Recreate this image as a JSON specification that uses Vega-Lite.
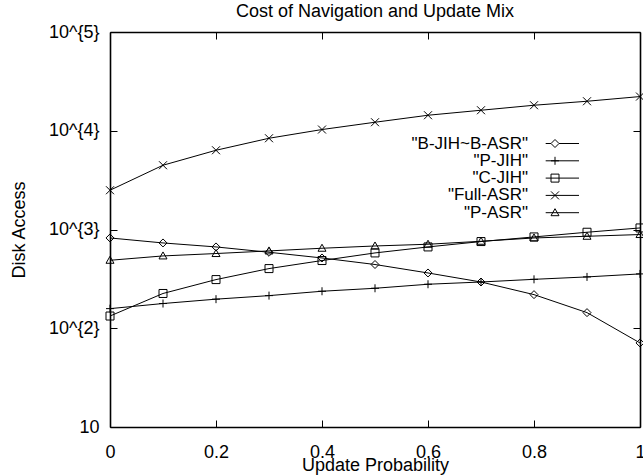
{
  "$schema": "https://vega.github.io/schema/vega-lite/v6.json",
  "width": 530,
  "height": 395,
  "autosize": {"type": "none"},
  "padding": {"left": 110, "top": 32, "right": 3, "bottom": 49},
  "background": "white",
  "config": {
    "font": "Liberation Sans",
    "view": {"stroke": null},
    "axis": {
      "domainColor": "black",
      "domainWidth": 1.6,
      "tickColor": "black",
      "tickWidth": 1,
      "tickSize": -7,
      "labelColor": "black",
      "titleColor": "black",
      "labelFontSize": 18,
      "titleFontSize": 18,
      "titleFontWeight": "normal",
      "grid": false,
      "labelOverlap": false,
      "labelBound": false,
      "labelFlush": false
    }
  },
  "title": {
    "text": "Cost of Navigation and Update Mix",
    "fontSize": 18,
    "fontWeight": "normal",
    "color": "black",
    "baseline": "alphabetic",
    "offset": 4,
    "dy": 16,
    "anchor": "middle",
    "frame": "group"
  },
  "data": {
    "values": [
      {"p": 0, "access": 821, "series": "B-JIH~B-ASR"},
      {"p": 0.1, "access": 731, "series": "B-JIH~B-ASR"},
      {"p": 0.2, "access": 666, "series": "B-JIH~B-ASR"},
      {"p": 0.3, "access": 588, "series": "B-JIH~B-ASR"},
      {"p": 0.4, "access": 515, "series": "B-JIH~B-ASR"},
      {"p": 0.5, "access": 442, "series": "B-JIH~B-ASR"},
      {"p": 0.6, "access": 363, "series": "B-JIH~B-ASR"},
      {"p": 0.7, "access": 294, "series": "B-JIH~B-ASR"},
      {"p": 0.8, "access": 219, "series": "B-JIH~B-ASR"},
      {"p": 0.9, "access": 144, "series": "B-JIH~B-ASR"},
      {"p": 1, "access": 71, "series": "B-JIH~B-ASR"},
      {"p": 0, "access": 158, "series": "P-JIH"},
      {"p": 0.1, "access": 178, "series": "P-JIH"},
      {"p": 0.2, "access": 197, "series": "P-JIH"},
      {"p": 0.3, "access": 214, "series": "P-JIH"},
      {"p": 0.4, "access": 237, "series": "P-JIH"},
      {"p": 0.5, "access": 254, "series": "P-JIH"},
      {"p": 0.6, "access": 279, "series": "P-JIH"},
      {"p": 0.7, "access": 294, "series": "P-JIH"},
      {"p": 0.8, "access": 313, "series": "P-JIH"},
      {"p": 0.9, "access": 331, "series": "P-JIH"},
      {"p": 1, "access": 355, "series": "P-JIH"},
      {"p": 0, "access": 133, "series": "C-JIH"},
      {"p": 0.1, "access": 225, "series": "C-JIH"},
      {"p": 0.2, "access": 311, "series": "C-JIH"},
      {"p": 0.3, "access": 402, "series": "C-JIH"},
      {"p": 0.4, "access": 485, "series": "C-JIH"},
      {"p": 0.5, "access": 579, "series": "C-JIH"},
      {"p": 0.6, "access": 666, "series": "C-JIH"},
      {"p": 0.7, "access": 755, "series": "C-JIH"},
      {"p": 0.8, "access": 841, "series": "C-JIH"},
      {"p": 0.9, "access": 938, "series": "C-JIH"},
      {"p": 1, "access": 1037, "series": "C-JIH"},
      {"p": 0, "access": 2498, "series": "Full-ASR"},
      {"p": 0.1, "access": 4474, "series": "Full-ASR"},
      {"p": 0.2, "access": 6346, "series": "Full-ASR"},
      {"p": 0.3, "access": 8395, "series": "Full-ASR"},
      {"p": 0.4, "access": 10285, "series": "Full-ASR"},
      {"p": 0.5, "access": 12194, "series": "Full-ASR"},
      {"p": 0.6, "access": 14355, "series": "Full-ASR"},
      {"p": 0.7, "access": 16131, "series": "Full-ASR"},
      {"p": 0.8, "access": 18126, "series": "Full-ASR"},
      {"p": 0.9, "access": 19892, "series": "Full-ASR"},
      {"p": 1, "access": 22200, "series": "Full-ASR"},
      {"p": 0, "access": 488, "series": "P-ASR"},
      {"p": 0.1, "access": 540, "series": "P-ASR"},
      {"p": 0.2, "access": 571, "series": "P-ASR"},
      {"p": 0.3, "access": 607, "series": "P-ASR"},
      {"p": 0.4, "access": 646, "series": "P-ASR"},
      {"p": 0.5, "access": 681, "series": "P-ASR"},
      {"p": 0.6, "access": 709, "series": "P-ASR"},
      {"p": 0.7, "access": 760, "series": "P-ASR"},
      {"p": 0.8, "access": 821, "series": "P-ASR"},
      {"p": 0.9, "access": 854, "series": "P-ASR"},
      {"p": 1, "access": 889, "series": "P-ASR"}
    ]
  },
  "layer": [
    {
      "mark": {"type": "line", "color": "black", "strokeWidth": 1},
      "encoding": {
        "x": {
          "field": "p", "type": "quantitative",
          "scale": {"domain": [0, 1], "nice": false, "zero": false},
          "axis": {
            "orient": "bottom",
            "values": [0, 0.2, 0.4, 0.6, 0.8, 1],
            "format": "~g",
            "title": "Update Probability",
            "labelBaseline": "alphabetic",
            "labelPadding": 37,
            "titleBaseline": "alphabetic",
            "titleX": 265,
            "titleY": 43.5
          }
        },
        "y": {
          "field": "access", "type": "quantitative",
          "scale": {"type": "log", "domain": [10, 100000], "nice": false},
          "axis": {
            "orient": "left",
            "values": [10, 100, 1000, 10000, 100000],
            "labelExpr": "datum.value <= 10 ? '10' : '10^{' + format(log(datum.value) / LN10, '.0f') + '}'",
            "labelPadding": 18,
            "title": "Disk Access",
            "titleBaseline": "alphabetic",
            "titleX": -85.5,
            "titleY": 197.5
          }
        },
        "detail": {"field": "series"}
      }
    },
    {
      "mark": {"type": "point", "filled": false, "color": "black", "size": 64, "strokeWidth": 1, "opacity": 1},
      "encoding": {
        "x": {
          "field": "p", "type": "quantitative",
          "axis": {"orient": "top", "values": [0, 0.2, 0.4, 0.6, 0.8, 1], "labels": false, "title": null}
        },
        "y": {
          "field": "access", "type": "quantitative",
          "axis": {"orient": "right", "values": [10, 100, 1000, 10000, 100000], "labels": false, "title": null}
        },
        "shape": {
          "field": "series", "type": "nominal",
          "scale": {
            "domain": ["B-JIH~B-ASR", "P-JIH", "C-JIH", "Full-ASR", "P-ASR"],
            "range": [
              "M0,-1L1,0L0,1L-1,0Z",
              "M-1,0H1M0,-1V1",
              "M-1,-1H1V1H-1Z",
              "M-1,-1L1,1M-1,1L1,-1",
              "M0,-1L1,0.75H-1Z"
            ]
          },
          "legend": null
        }
      }
    },
    {
      "transform": [{"filter": "false"}],
      "mark": {"type": "point", "filled": false, "color": "black", "size": 64, "strokeWidth": 1, "opacity": 1},
      "encoding": {
        "shape": {
          "field": "series", "type": "nominal",
          "scale": {
            "domain": ["B-JIH~B-ASR", "P-JIH", "C-JIH", "Full-ASR", "P-ASR"],
            "range": [
              "M0,-1L1,0L0,1L-1,0Z M-2.33,0H-1M1,0H6",
              "M-1,0H1M0,-1V1 M-2.33,0H6",
              "M-1,-1H1V1H-1Z M-2.33,0H6",
              "M-1,-1L1,1M-1,1L1,-1 M-2.33,0H6",
              "M0,-1L1,0.75H-1Z M-2.33,0H6"
            ]
          },
          "legend": {
            "orient": "none",
            "legendX": 436.5,
            "legendY": 103,
            "title": null,
            "padding": 0,
            "labelFontSize": 17,
            "labelColor": "black",
            "labelAlign": "right",
            "labelOffset": -35.5,
            "labelLimit": 300,
            "labelExpr": "'\"' + datum.label + '\"'",
            "symbolSize": 64,
            "symbolStrokeWidth": 1,
            "rowPadding": -0.7
          }
        }
      }
    }
  ],
  "resolve": {"scale": {"shape": "independent"}, "axis": {"x": "independent", "y": "independent"}}
}
